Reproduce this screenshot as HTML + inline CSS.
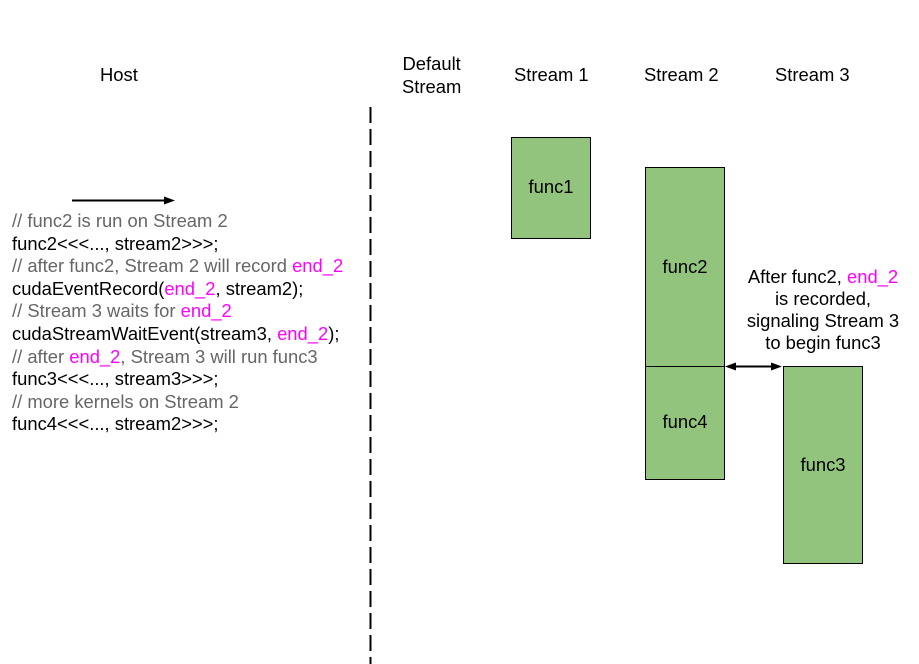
<!DOCTYPE html>
<html><head><meta charset="utf-8"><style>
html,body{margin:0;padding:0;background:#fff;}
body{width:919px;height:664px;position:relative;overflow:hidden;font-family:"Liberation Sans",Arial,sans-serif;}
.t{position:absolute;font-size:18.4px;color:#000;white-space:nowrap;line-height:22px;}
.c{color:#666;}
.m{color:#ff00ff;}
</style></head><body>
<svg width="919" height="664" style="position:absolute;left:0;top:0">
<line x1="370.5" y1="107" x2="370.5" y2="664" stroke="#000" stroke-width="2" stroke-dasharray="16 6"/>
<line x1="72" y1="200.5" x2="166" y2="200.5" stroke="#000" stroke-width="2"/>
<polygon points="175,200.5 164,196.5 164,204.5" fill="#000"/>
<rect x="511.5" y="137.5" width="79" height="101" fill="#93c47d" stroke="#000"/>
<rect x="645.5" y="167.5" width="79" height="199" fill="#93c47d" stroke="#000"/>
<rect x="645.5" y="366.5" width="79" height="113" fill="#93c47d" stroke="#000"/>
<rect x="783.5" y="366.5" width="79" height="197" fill="#93c47d" stroke="#000"/>
<line x1="733" y1="366.5" x2="774" y2="366.5" stroke="#000" stroke-width="2"/>
<polygon points="725,366.5 736,362.5 736,370.5" fill="#000"/>
<polygon points="782,366.5 771,362.5 771,370.5" fill="#000"/>
</svg>
<div class="t" style="left:100px;top:64px">Host</div>
<div class="t" style="left:402px;top:52px;line-height:23px;text-align:center">Default<br>Stream</div>
<div class="t" style="left:514px;top:64px">Stream 1</div>
<div class="t" style="left:644px;top:64px">Stream 2</div>
<div class="t" style="left:775px;top:64px">Stream 3</div>
<div class="t" style="left:511px;top:176px;width:80px;text-align:center">func1</div>
<div class="t" style="left:645px;top:256px;width:80px;text-align:center">func2</div>
<div class="t" style="left:645px;top:411px;width:80px;text-align:center">func4</div>
<div class="t" style="left:783px;top:454px;width:80px;text-align:center">func3</div>
<div class="t" style="left:733px;top:266px;width:180px;text-align:center">After func2, <span class="m">end_2</span><br>is recorded,<br>signaling Stream 3<br>to begin func3</div>
<div class="t" style="left:12px;top:210px;line-height:22.6px">
<span class="c">// func2 is run on Stream 2</span><br>
func2&lt;&lt;&lt;..., stream2&gt;&gt;&gt;;<br>
<span class="c">// after func2, Stream 2 will record </span><span class="m">end_2</span><br>
cudaEventRecord(<span class="m">end_2</span>, stream2);<br>
<span class="c">// Stream 3 waits for </span><span class="m">end_2</span><br>
cudaStreamWaitEvent(stream3, <span class="m">end_2</span>);<br>
<span class="c">// after </span><span class="m">end_2</span><span class="c">, Stream 3 will run func3</span><br>
func3&lt;&lt;&lt;..., stream3&gt;&gt;&gt;;<br>
<span class="c">// more kernels on Stream 2</span><br>
func4&lt;&lt;&lt;..., stream2&gt;&gt;&gt;;
</div>
</body></html>
